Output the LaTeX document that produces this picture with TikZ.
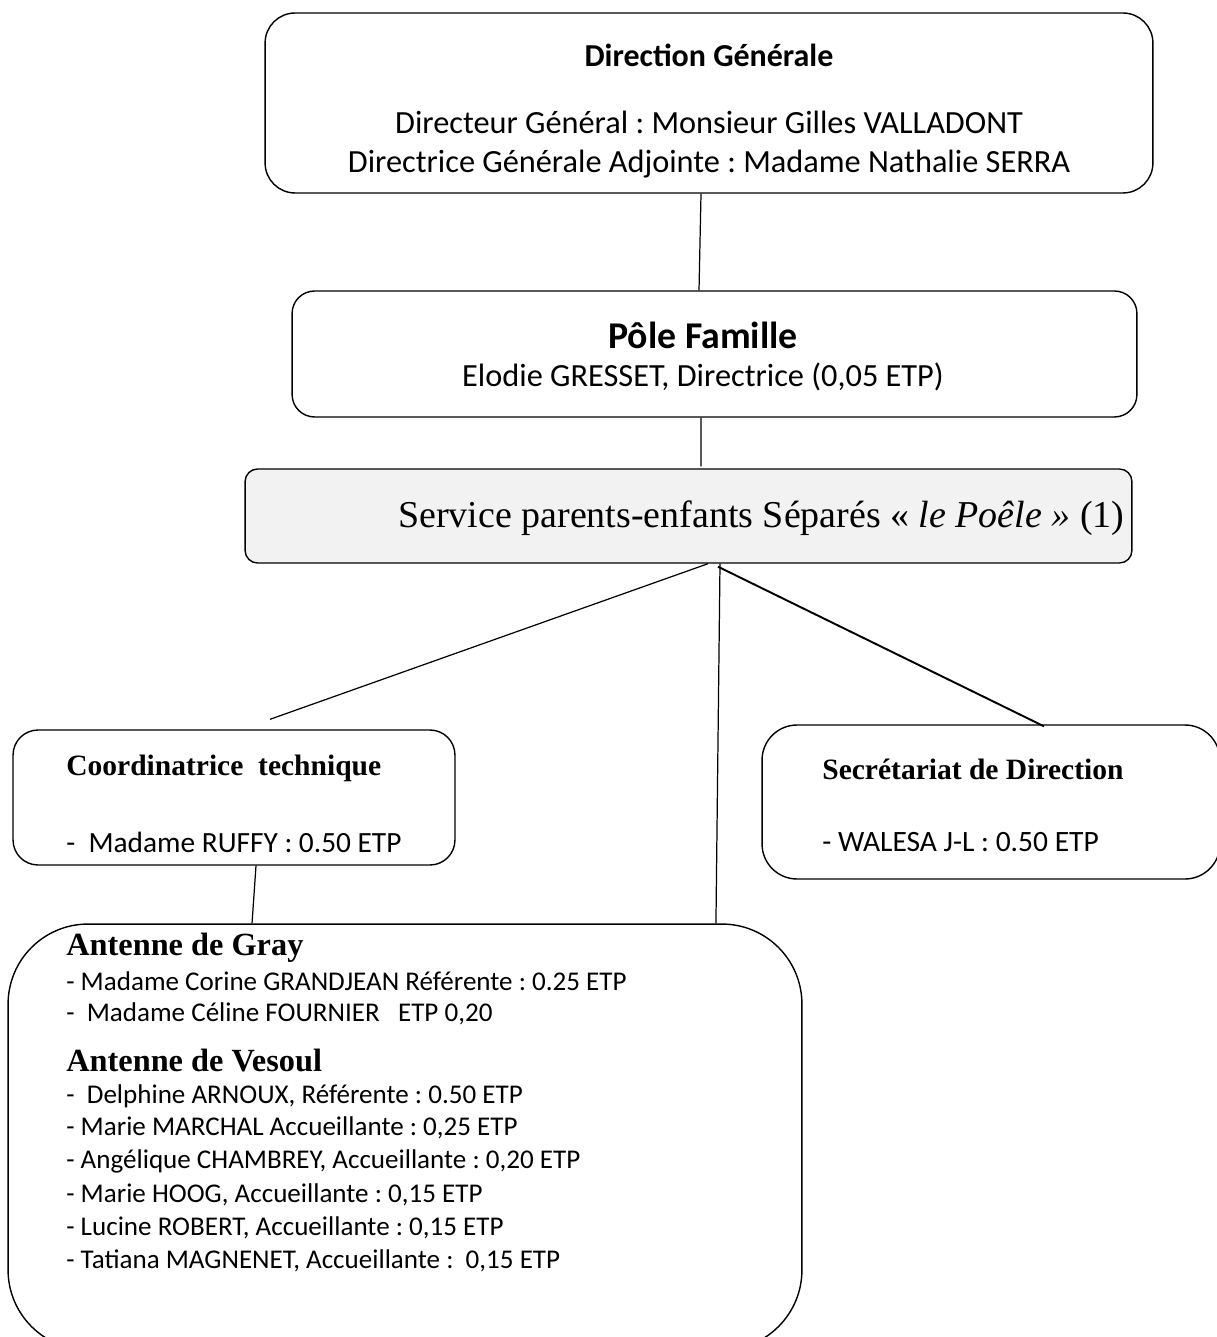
\documentclass[tikz,border=0pt]{standalone}
\usepackage{fontspec}
\setmainfont{Carlito}
\newfontfamily\timesfont{Liberation Serif}
\usetikzlibrary{positioning}
\definecolor{BoxGray}{RGB}{242,242,242}
\definecolor{Ink}{RGB}{0,0,0}
\frenchspacing

\begin{document}
\begin{tikzpicture}[x=0.02cm,y=-0.02cm,
    box/.style={draw=Ink,line width=0.8pt,inner sep=0pt,fill=white},
    link/.style={draw=Ink,line width=0.7pt},
    txt/.style={inner sep=0pt,text=Ink},
    calib/.style={txt,font=\fontsize{18.4}{21}\selectfont},
    small/.style={txt,anchor=west,font=\fontsize{15.4}{18}\selectfont},
    serifhead/.style={txt,anchor=west,font=\timesfont\bfseries\fontsize{16.8}{20}\selectfont},
    antenne/.style={txt,anchor=west,font=\timesfont\bfseries\fontsize{18.4}{21}\selectfont}
]
\useasboundingbox (0,0) rectangle (1216,1337);

% Boxes
\node[box,rounded corners=0.6cm,minimum width=17.76cm,minimum height=3.6cm] (dg) at (709,103) {};
\node[box,rounded corners=0.45cm,minimum width=16.9cm,minimum height=2.52cm] (pole) at (714.5,354) {};
\node[box,rounded corners=0.25cm,fill=BoxGray,minimum width=17.74cm,minimum height=1.88cm] (spes) at (688.5,516) {};
\node[box,rounded corners=0.5cm,minimum width=8.84cm,minimum height=2.7cm] (coord) at (234,797.5) {};
\node[box,rounded corners=0.7cm,minimum width=9.16cm,minimum height=3.08cm] (secr) at (991,802) {};
\node[box,rounded corners=1.6cm,minimum width=15.88cm,minimum height=8.52cm] (ant) at (405,1137) {};

% Direction Generale
\node[calib,font=\bfseries\fontsize{18.2}{21}\selectfont] (dgt) at (709,55) {Direction Générale};
\node[calib] (dg1) at (709,122) {Directeur Général : Monsieur Gilles VALLADONT};
\node[calib] (dg2) at (709,164) {Directrice Générale Adjointe : Madame Nathalie SERRA};

% Pole Famille
\node[calib,font=\bfseries\fontsize{21.5}{25}\selectfont] (polet) at (703,335) {Pôle Famille};
\node[calib] (pole1) at (703,377) {Elodie GRESSET, Directrice (0,05 ETP)};

% Service
\node[txt,anchor=west,font=\timesfont\fontsize{21.6}{25}\selectfont] (spest) at (398,518) {Service parents-enfants Séparés « \textit{le Poêle »} (1)};

% Coordinatrice / Secretariat
\node[serifhead] (coordt) at (66,768) {Coordinatrice\ \ technique};
\node[small,font=\fontsize{16.7}{20}\selectfont] (coord1) at (66,842) {-\ \ Madame RUFFY : 0.50 ETP};
\node[serifhead] (secrt) at (822,769) {Secrétariat de Direction};
\node[small,font=\fontsize{16.8}{20}\selectfont] (secr1) at (822,842) {- WALESA J-L : 0.50 ETP};

% Antennes
\node[antenne] (gray) at (66,948) {Antenne de Gray};
\node[small] (g1) at (66,981) {- Madame Corine GRANDJEAN Référente : 0.25 ETP};
\node[small] (g2) at (66,1014) {-\ \ Madame Céline FOURNIER\ \ \ ETP 0,20};
\node[antenne] (vesoul) at (66,1061) {Antenne de Vesoul};
\node[small] (v1) at (66,1096) {-\ \ Delphine ARNOUX, Référente : 0.50 ETP};
\node[small] (v2) at (66,1128) {- Marie MARCHAL Accueillante : 0,25 ETP};
\node[small] (v3) at (66,1161) {- Angélique CHAMBREY, Accueillante : 0,20 ETP};
\node[small] (v4) at (66,1195) {- Marie HOOG, Accueillante : 0,15 ETP};
\node[small] (v5) at (66,1228) {- Lucine ROBERT, Accueillante : 0,15 ETP};
\node[small] (v6) at (66,1261) {- Tatiana MAGNENET, Accueillante :\ \ 0,15 ETP};

% Connectors
\draw[link] ([xshift=-0.16cm]dg.south) -- ([xshift=-0.31cm]pole.north);
\draw[link] ([xshift=-0.27cm]pole.south) -- ([xshift=0.25cm,yshift=0.04cm]spes.north);
\draw[link] ([xshift=0.39cm]spes.south) -- ([xshift=0.72cm,yshift=0.2cm]coord.north);
\draw[link] ([xshift=0.63cm]spes.south) -- ([xshift=6.22cm]ant.north);
\draw[link,line width=1.1pt] ([xshift=0.59cm,yshift=-0.06cm]spes.south) -- ([xshift=1.06cm,yshift=-0.04cm]secr.north);
\draw[link] ([xshift=0.44cm]coord.south) -- ([xshift=-3.06cm]ant.north);

\end{tikzpicture}
\end{document}
